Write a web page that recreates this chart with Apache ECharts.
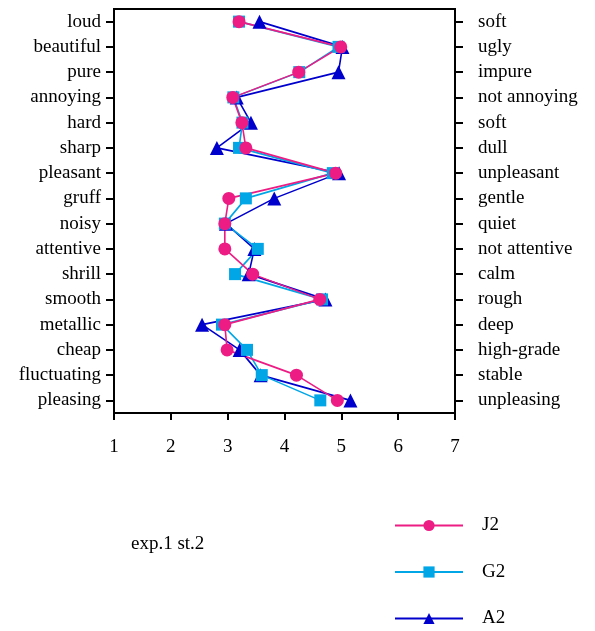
<!DOCTYPE html>
<html>
<head>
<meta charset="utf-8">
<script src="https://cdn.jsdelivr.net/npm/echarts@6/dist/echarts.min.js"></script>
<style>
  html, body { margin: 0; padding: 0; background: #fff; }
  #chart { width: 595px; height: 631px; }
</style>
</head>
<body>
<div id="chart"></div>
<script>
// Semantic differential scale pairs (left adjective / right adjective)
const leftTerms = ['loud', 'beautiful', 'pure', 'annoying', 'hard', 'sharp', 'pleasant', 'gruff',
  'noisy', 'attentive', 'shrill', 'smooth', 'metallic', 'cheap', 'fluctuating', 'pleasing'];
const rightTerms = ['soft', 'ugly', 'impure', 'not annoying', 'soft', 'dull', 'unpleasant', 'gentle',
  'quiet', 'not attentive', 'calm', 'rough', 'deep', 'high-grade', 'stable', 'unpleasing'];

// Mean ratings on the 1–7 scale
const J2 = [3.20, 4.99, 4.25, 3.09, 3.25, 3.32, 4.90, 3.02, 2.95, 2.95, 3.44, 4.62, 2.95, 2.99, 4.21, 4.93];
const G2 = [3.20, 4.95, 4.26, 3.10, 3.26, 3.20, 4.85, 3.32, 2.95, 3.53, 3.13, 4.66, 2.90, 3.34, 3.60, 4.63];
const A2 = [3.56, 5.02, 4.95, 3.16, 3.41, 2.81, 4.96, 3.82, 2.97, 3.47, 3.37, 4.72, 2.55, 3.21, 3.58, 5.16];

const xTicks = [1, 2, 3, 4, 5, 6, 7];
const caption = 'exp.1 st.2';

const FONT = '"Liberation Serif", "DejaVu Serif", serif';
const FS = 19;
const colJ = '#EC1C84';
const colG = '#00A6E6';
const colA = '#0000CC';

const chart = echarts.init(document.getElementById('chart'), null, { renderer: 'canvas' });

const catAxisBase = {
  type: 'category',
  inverse: true,
  boundaryGap: true,
  axisLine: { show: true, lineStyle: { color: '#000', width: 2 } },
  axisTick: { show: true, alignWithLabel: true, length: 8, lineStyle: { color: '#000', width: 2 } },
  splitLine: { show: false }
};

function lineSeries(name, data, color, symbol, size) {
  return {
    name: name,
    type: 'line',
    data: data.map((v, i) => [v, i]),
    yAxisIndex: 0,
    symbol: symbol,
    symbolSize: size,
    lineStyle: { color: color, width: 1.6 },
    itemStyle: { color: color },
    emphasis: { disabled: true },
    animation: false
  };
}

chart.setOption({
  animation: false,
  backgroundColor: '#fff',
  grid: {
    left: 114, right: 140, top: 9, bottom: 218,
    show: true, borderColor: '#000', borderWidth: 2, backgroundColor: 'transparent'
  },
  xAxis: {
    type: 'value',
    min: xTicks[0],
    max: xTicks[xTicks.length - 1],
    interval: 1,
    axisLine: { show: true, onZero: false, lineStyle: { color: '#000', width: 2 } },
    axisTick: { show: true, length: 7, lineStyle: { color: '#000', width: 2 } },
    axisLabel: { color: '#000', fontFamily: FONT, fontSize: FS, margin: 25 },
    splitLine: { show: false }
  },
  yAxis: [
    Object.assign({}, catAxisBase, {
      position: 'left',
      data: leftTerms,
      axisLabel: { color: '#000', fontFamily: FONT, fontSize: FS, margin: 13 }
    }),
    Object.assign({}, catAxisBase, {
      position: 'right',
      data: rightTerms,
      axisLabel: { color: '#000', fontFamily: FONT, fontSize: FS, margin: 23 }
    })
  ],
  legend: {
    data: ['J2', 'G2', 'A2'],
    orient: 'vertical',
    left: 394,
    top: 516,
    padding: 0,
    itemWidth: 68,
    itemHeight: 14,
    itemGap: 27.5,
    textStyle: { color: '#000', fontFamily: FONT, fontSize: FS, padding: [0, 0, 0, 14] },
    selectedMode: false
  },
  graphic: [{
    type: 'text',
    left: 131,
    top: 535,
    style: { text: caption, fill: '#000', font: FS + 'px ' + FONT }
  }],
  series: [
    lineSeries('A2', A2, colA, 'triangle', 14),
    lineSeries('G2', G2, colG, 'rect', 12),
    lineSeries('J2', J2, colJ, 'circle', 13)
  ]
});
</script>
</body>
</html>
